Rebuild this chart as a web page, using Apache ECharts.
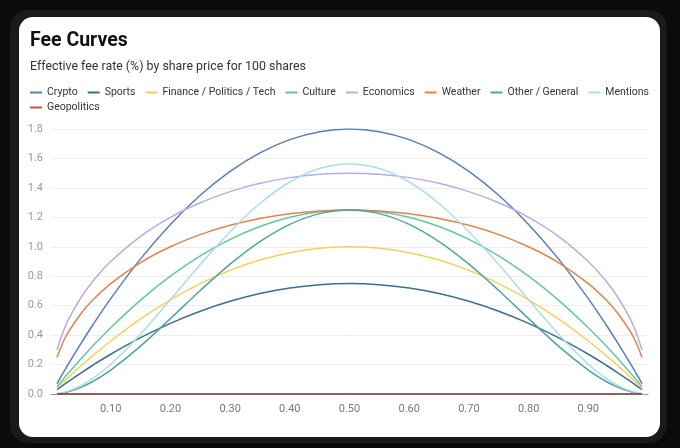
<!DOCTYPE html>
<html>
<head>
<meta charset="utf-8">
<script src="https://cdn.jsdelivr.net/npm/echarts@6/dist/echarts.min.js"></script>
<style>
html,body{margin:0;padding:0;width:680px;height:448px;background:#0b0b0d;overflow:hidden;font-family:Roboto,sans-serif;}
#frame{position:absolute;left:10px;top:10px;width:657px;height:433px;background:#1a1a1c;border-radius:18px;}
#card{position:absolute;left:19px;top:17px;width:641px;height:420px;background:#fff;border-radius:14px;overflow:hidden;}
#chart{position:absolute;left:0;top:0;width:641px;height:420px;}
</style>
</head>
<body>
<div id="frame"></div>
<div id="card"><div id="chart"></div></div>
<script>
const prices = [0.01,0.02,0.03,0.05,0.07,0.10,0.15,0.20,0.25,0.30,0.35,0.40,0.45,0.50,0.55,0.60,0.65,0.70,0.75,0.80,0.85,0.90,0.93,0.95,0.97,0.98,0.99];

const crypto = [0.0713,0.1411,0.2095,0.342,0.4687,0.648,0.918,1.152,1.35,1.512,1.638,1.728,1.782,1.8,1.782,1.728,1.638,1.512,1.35,1.152,0.918,0.648,0.4687,0.342,0.2095,0.1411,0.0713];
const sports = [0.0297,0.0588,0.0873,0.1425,0.1953,0.27,0.3825,0.48,0.5625,0.63,0.6825,0.72,0.7425,0.75,0.7425,0.72,0.6825,0.63,0.5625,0.48,0.3825,0.27,0.1953,0.1425,0.0873,0.0588,0.0297];
const finance = [0.0396,0.0784,0.1164,0.19,0.2604,0.36,0.51,0.64,0.75,0.84,0.91,0.96,0.99,1.0,0.99,0.96,0.91,0.84,0.75,0.64,0.51,0.36,0.2604,0.19,0.1164,0.0784,0.0396];
const culture = [0.0495,0.098,0.1455,0.2375,0.3255,0.45,0.6375,0.8,0.9375,1.05,1.1375,1.2,1.2375,1.25,1.2375,1.2,1.1375,1.05,0.9375,0.8,0.6375,0.45,0.3255,0.2375,0.1455,0.098,0.0495];
const economics = [0.2985,0.42,0.5118,0.6538,0.7655,0.9,1.0712,1.2,1.299,1.3748,1.4309,1.4697,1.4925,1.5,1.4925,1.4697,1.4309,1.3748,1.299,1.2,1.0712,0.9,0.7655,0.6538,0.5118,0.42,0.2985];
const weather = [0.2488,0.35,0.4265,0.5449,0.6379,0.75,0.8926,1.0,1.0825,1.1456,1.1924,1.2247,1.2437,1.25,1.2437,1.2247,1.1924,1.1456,1.0825,1.0,0.8926,0.75,0.6379,0.5449,0.4265,0.35,0.2488];
const otherGeneral = [0.00196,0.00768,0.01694,0.0451,0.0848,0.162,0.3251,0.512,0.7031,0.882,1.0351,1.152,1.2251,1.25,1.2251,1.152,1.0351,0.882,0.7031,0.512,0.3251,0.162,0.0848,0.0451,0.01694,0.00768,0.00196];
const mentions = [0.00245,0.0096,0.02117,0.0564,0.106,0.2025,0.4064,0.64,0.8789,1.1025,1.2939,1.44,1.5314,1.5625,1.5314,1.44,1.2939,1.1025,0.8789,0.64,0.4064,0.2025,0.106,0.0564,0.02117,0.0096,0.00245];
const geopolitics = [0,0,0,0,0,0,0,0,0,0,0,0,0,0,0,0,0,0,0,0,0,0,0,0,0,0,0];

const seriesNames = ['Crypto','Sports','Finance / Politics / Tech','Culture','Economics','Weather','Other / General','Mentions','Geopolitics'];
const seriesValues = [crypto,sports,finance,culture,economics,weather,otherGeneral,mentions,geopolitics];
const colors = ['#5a7db5','#3b6f90','#f3d25c','#63c8a0','#b9aae8','#e3824c','#4fa59c','#acdcef','#c9524e'];
const lineColors = ['#5a7db5','#3b6f90','#f3d25c','#63c8a0','#b9aae8','#e3824c','#4fa59c','#acdcef','#7a2c2c'];

const legendBase = {
  left:11,right:4,padding:0,icon:'rect',
  itemWidth:12,itemHeight:2,itemGap:10,
  textStyle:{fontSize:10.5,color:'#333',fontFamily:'Roboto'}
};

const chart = echarts.init(document.getElementById('chart'));
chart.setOption({
  animation:false,
  textStyle:{fontFamily:'Roboto'},
  title:[
    {text:'Fee Curves',left:11,top:14,padding:0,textStyle:{fontSize:19.5,fontWeight:'bold',color:'#111',fontFamily:'Roboto'}},
    {text:'Effective fee rate (%) by share price for 100 shares',left:11,top:44,padding:0,textStyle:{fontSize:12.4,fontWeight:'normal',color:'#333',fontFamily:'Roboto'}}
  ],
  legend:[
    Object.assign({},legendBase,{top:70,data:seriesNames.slice(0,8)}),
    Object.assign({},legendBase,{top:85,data:seriesNames.slice(8)})
  ],
  grid:{left:32,right:12,top:112,bottom:43,containLabel:false},
  xAxis:{
    type:'value',min:0,max:1,interval:0.1,
    axisLine:{show:true,lineStyle:{color:'#999',width:1}},
    axisTick:{show:false},
    splitLine:{show:false},
    axisLabel:{showMinLabel:false,showMaxLabel:false,color:'#777',fontSize:11,margin:10,formatter:v=>v.toFixed(2)}
  },
  yAxis:{
    type:'value',min:0,max:1.8,interval:0.2,
    axisLine:{show:false},axisTick:{show:false},
    splitLine:{lineStyle:{color:'#eeeeee'}},
    axisLabel:{color:'#999',fontSize:11,margin:8,formatter:v=>v.toFixed(1)}
  },
  series:seriesNames.map((n,i)=>({
    name:n,type:'line',symbol:'none',smooth:0.33,
    itemStyle:{color:colors[i]},
    lineStyle:{width:1.5,color:lineColors[i]},
    data:prices.map((p,j)=>[p,seriesValues[i][j]])
  }))
});
</script>
</body>
</html>
